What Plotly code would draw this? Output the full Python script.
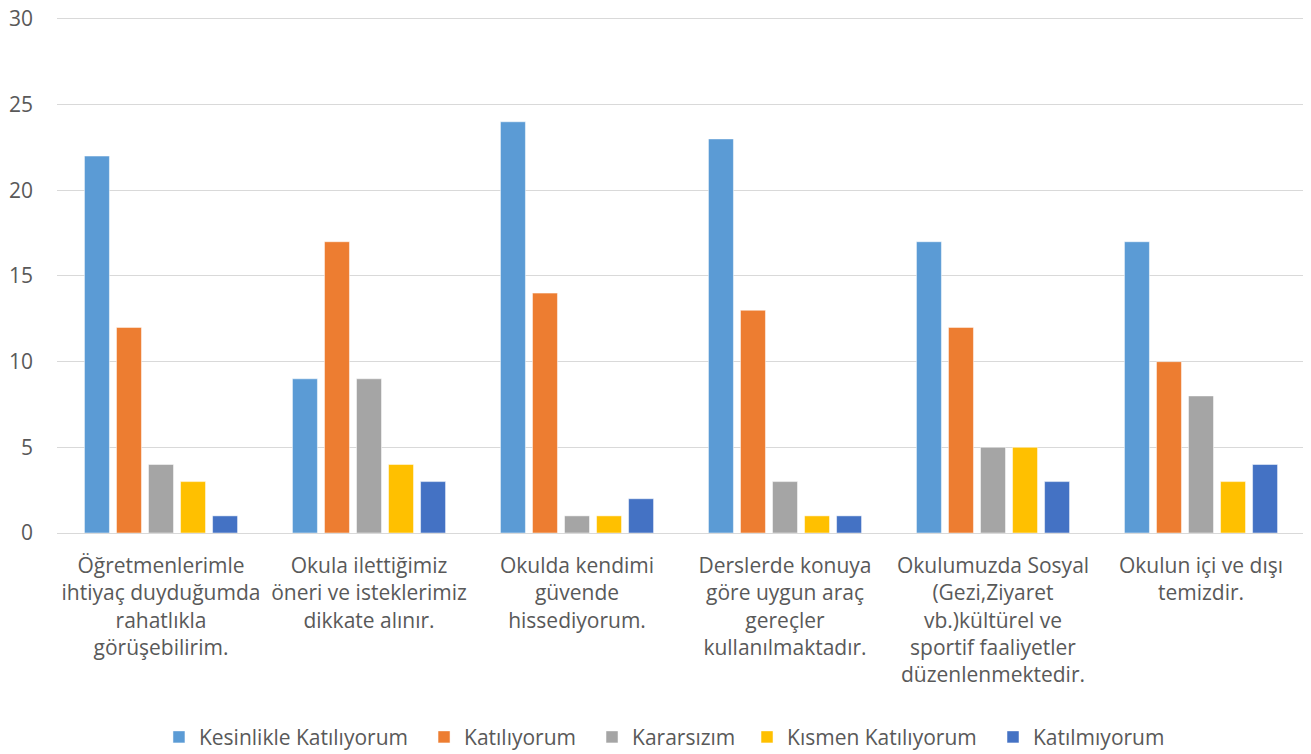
import plotly.graph_objects as go

categories = [
    "Öğretmenlerimle<br>ihtiyaç duyduğumda<br>rahatlıkla<br>görüşebilirim.",
    "Okula ilettiğimiz<br>öneri ve isteklerimiz<br>dikkate alınır.",
    "Okulda kendimi<br>güvende<br>hissediyorum.",
    "Derslerde konuya<br>göre uygun araç<br>gereçler<br>kullanılmaktadır.",
    "Okulumuzda Sosyal<br>(Gezi,Ziyaret<br>vb.)kültürel ve<br>sportif faaliyetler<br>düzenlenmektedir.",
    "Okulun içi ve dışı<br>temizdir.",
]
series_names = ["Kesinlikle Katılıyorum", "Katılıyorum", "Kararsızım", "Kısmen Katılıyorum", "Katılmıyorum"]
kesinlikle = [22, 9, 24, 23, 17, 17]
katiliyorum = [12, 17, 14, 13, 12, 10]
kararsizim = [4, 9, 1, 3, 5, 8]
kismen = [3, 4, 1, 1, 5, 3]
katilmiyorum = [1, 3, 2, 1, 3, 4]
y_ticks = [0, 5, 10, 15, 20, 25, 30]
colors = ["#5B9BD5", "#ED7D31", "#A5A5A5", "#FFC000", "#4472C4"]

# horizontal placement (paper fraction) of each legend entry
legend_x = [0.0817, 0.2941, 0.4287, 0.5529, 0.7500]

fig = go.Figure()
for i, (name, vals, col) in enumerate(zip(series_names, [kesinlikle, katiliyorum, kararsizim, kismen, katilmiyorum], colors)):
    lg = "legend" if i == 0 else f"legend{i+1}"
    fig.add_trace(go.Bar(x=categories, y=vals, name=name, legend=lg,
                         marker=dict(color=col, line=dict(color="white", width=0.5))))

font_family = "Open Sans, Liberation Sans, sans-serif"
legend_common = dict(orientation="h", y=-0.354, yanchor="top", xanchor="left",
                     font=dict(size=21, color="#595959"), itemwidth=30,
                     bgcolor="rgba(0,0,0,0)")
fig.update_layout(
    width=1303, height=760,
    margin=dict(l=49, r=6, t=6, b=235),
    plot_bgcolor="white", paper_bgcolor="white",
    barmode="group", bargap=0.23, bargroupgap=0.22,
    font=dict(family=font_family, size=21, color="#595959"),
    showlegend=True,
)
for i, lx in enumerate(legend_x):
    key = "legend" if i == 0 else f"legend{i+1}"
    fig.update_layout({key: dict(legend_common, x=lx)})

fig.update_xaxes(showgrid=False, showline=False, tickfont=dict(size=21, color="#595959"), ticks="",
                 automargin=False, ticklabelstandoff=18)
fig.update_yaxes(range=[0, 30.29], tickvals=y_ticks, showgrid=True, gridcolor="#D9D9D9", gridwidth=1,
                 zeroline=True, zerolinecolor="#D9D9D9", zerolinewidth=1, automargin=False,
                 ticklabeloverflow="allow",
                 tickfont=dict(size=21, color="#595959"), ticklabelstandoff=23)

fig.write_html("out.html")
